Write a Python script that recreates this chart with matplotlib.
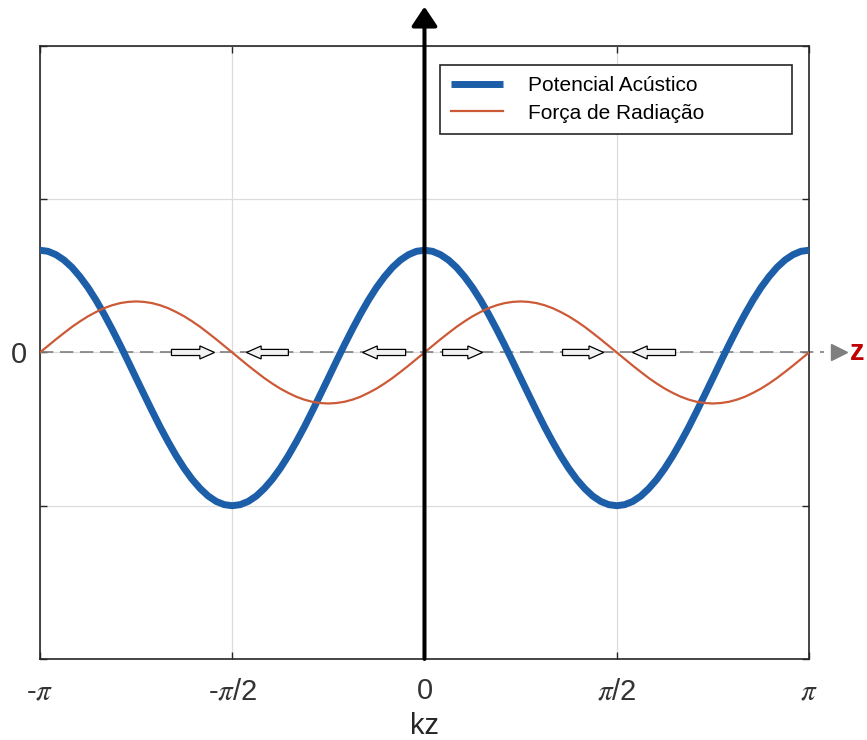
import numpy as np
import matplotlib
matplotlib.use("Agg")
import matplotlib.pyplot as plt
from matplotlib.patches import FancyArrow

plt.rcParams["font.family"] = ["Liberation Sans", "DejaVu Sans"]
plt.rcParams["mathtext.fontset"] = "stix"

# kz sampled every pi/48 from -pi to pi
kz = np.arange(-48, 49) * np.pi / 48

# values (one period, repeated twice)
potencial = [
    0.667, 0.660, 0.638, 0.603, 0.555, 0.494, 0.423, 0.341, 0.250, 0.152,
    0.049, -0.058, -0.167, -0.275, -0.382, -0.486, -0.583, -0.674, -0.756,
    -0.828, -0.888, -0.937, -0.972, -0.993, -1.000, -0.993, -0.972, -0.937,
    -0.888, -0.828, -0.756, -0.674, -0.583, -0.486, -0.382, -0.275, -0.167,
    -0.058, 0.049, 0.152, 0.250, 0.341, 0.423, 0.494, 0.555, 0.603, 0.638,
    0.660,
    0.667, 0.660, 0.638, 0.603, 0.555, 0.494, 0.423, 0.341, 0.250, 0.152,
    0.049, -0.058, -0.167, -0.275, -0.382, -0.486, -0.583, -0.674, -0.756,
    -0.828, -0.888, -0.937, -0.972, -0.993, -1.000, -0.993, -0.972, -0.937,
    -0.888, -0.828, -0.756, -0.674, -0.583, -0.486, -0.382, -0.275, -0.167,
    -0.058, 0.049, 0.152, 0.250, 0.341, 0.423, 0.494, 0.555, 0.603, 0.638,
    0.660, 0.667]
forca = [
    0.000, 0.043, 0.086, 0.127, 0.167, 0.203, 0.236, 0.264, 0.289, 0.308,
    0.322, 0.330, 0.333, 0.330, 0.322, 0.308, 0.289, 0.264, 0.236, 0.203,
    0.167, 0.127, 0.086, 0.043, 0.000, -0.043, -0.086, -0.127, -0.167,
    -0.203, -0.236, -0.264, -0.289, -0.308, -0.322, -0.330, -0.333, -0.330,
    -0.322, -0.308, -0.289, -0.264, -0.236, -0.203, -0.167, -0.127, -0.086,
    -0.043,
    0.000, 0.043, 0.086, 0.127, 0.167, 0.203, 0.236, 0.264, 0.289, 0.308,
    0.322, 0.330, 0.333, 0.330, 0.322, 0.308, 0.289, 0.264, 0.236, 0.203,
    0.167, 0.127, 0.086, 0.043, 0.000, -0.043, -0.086, -0.127, -0.167,
    -0.203, -0.236, -0.264, -0.289, -0.308, -0.322, -0.330, -0.333, -0.330,
    -0.322, -0.308, -0.289, -0.264, -0.236, -0.203, -0.167, -0.127, -0.086,
    -0.043, 0.000]

# small force arrows on the z axis (tail -> head, in units of pi)
arrow_tail = [-0.658, -0.354, -0.049, 0.047, 0.359, 0.653]
arrow_head = [-0.546, -0.463, -0.161, 0.151, 0.466, 0.541]

xticks = [-np.pi, -np.pi / 2, 0, np.pi / 2, np.pi]
xticklabels = [r"-$\pi$", r"-$\pi$/2", "0", r"$\pi$/2", r"$\pi$"]

C_POT = "#1c5ea8"
C_FOR = "#cc5a36"

fig = plt.figure(figsize=(8.67, 7.4), dpi=100)
ax = fig.add_axes([0.0461, 0.1095, 0.8870, 0.8284])

ax.plot(kz, potencial, color=C_POT, lw=5, solid_joinstyle="round",
        solid_capstyle="butt", zorder=3, label="Potencial Acústico")
ax.plot(kz, forca, color=C_FOR, lw=1.6, solid_joinstyle="round", zorder=3,
        label="Força de Radiação")

ax.set_xlim(-np.pi, np.pi)
ax.set_ylim(-2, 2)
ax.set_xticks(xticks)
ax.set_xticklabels(xticklabels)
ax.set_yticks([-2, -1, 0, 1, 2])
ax.set_yticklabels(["", "", "0", "", ""])
ax.tick_params(direction="in", top=True, right=True, length=5, width=1,
               labelsize=21, labelcolor="#333333", color="#262626")
ax.tick_params(axis="x", pad=13)
ax.tick_params(axis="y", pad=9)
ax.grid(color="#dcdcdc", lw=0.9)
ax.set_axisbelow(True)
for s in ax.spines.values():
    s.set_color("#262626")
    s.set_linewidth(1.2)
ax.set_xlabel("kz", fontsize=21, color="#262626", labelpad=5)

# dashed z axis with grey head and red label
ax.plot([0, 1.0195], [0, 0], transform=ax.get_yaxis_transform(), ls=(0, (8, 4)),
        color="#7f7f7f", lw=1.2, clip_on=False, zorder=2)
ax.plot([1.039], [0], transform=ax.get_yaxis_transform(), marker=">", ms=11.5,
        color="#7f7f7f", clip_on=False)
ax.text(1.0535, 0, "z", transform=ax.get_yaxis_transform(), color="#c00000",
        fontsize=21, fontweight="bold", va="center", ha="left", clip_on=False)

# black vertical axis arrow
ax.annotate("", xy=(0, 0.991), xycoords=("data", "figure fraction"),
            xytext=(0, -2), textcoords="data",
            arrowprops=dict(arrowstyle="-|>,head_length=0.45,head_width=0.3",
                            color="black", lw=2.9, mutation_scale=26,
                            shrinkA=0, shrinkB=0),
            annotation_clip=False, zorder=5)

for t, h in zip(arrow_tail, arrow_head):
    ax.add_patch(FancyArrow(t * np.pi, 0, (h - t) * np.pi, 0, width=0.04,
                            head_width=0.085, head_length=0.12,
                            length_includes_head=True, facecolor="#f2f2f2",
                            edgecolor="black", lw=0.9, zorder=4))

leg = ax.legend(loc="upper left", bbox_to_anchor=(0.520, 0.840, 0.458, 0.129),
                mode="expand", borderaxespad=0, fontsize=15, handlelength=2.5,
                handletextpad=1.2, borderpad=0.55, labelspacing=0.4,
                fancybox=False, framealpha=1)
leg.get_frame().set_edgecolor("#262626")
leg.get_frame().set_linewidth(1.2)

fig.savefig("out.png", dpi=100)
